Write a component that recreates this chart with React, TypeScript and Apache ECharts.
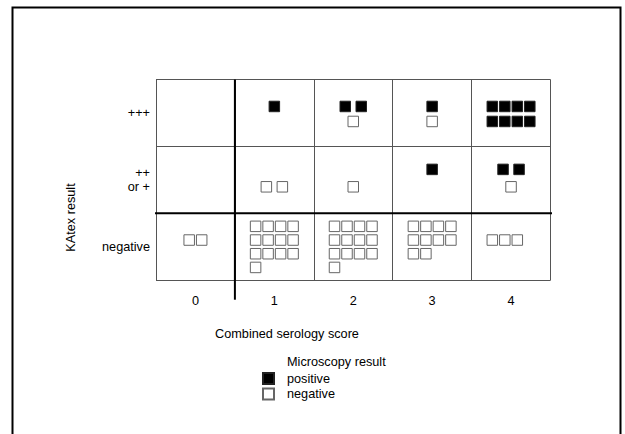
import React, { useEffect, useRef } from "react";
import * as echarts from "echarts";

// ---- data ----
const xCategories = ["0", "1", "2", "3", "4"];
// rows from bottom to top
const yCategories = ["negative", "++\nor +", "+++"];
// counts of patients per cell: [row][serology score]
const positiveByRow = [
  [0, 0, 0, 0, 0],
  [0, 0, 0, 1, 2],
  [0, 1, 2, 1, 8],
];
const negativeByRow = [
  [2, 13, 13, 10, 3],
  [0, 2, 1, 0, 1],
  [0, 0, 1, 1, 0],
];
const legendNames = ["positive", "negative"];

// ---- layout / style ----
const FONT = '"Liberation Sans", Arial, sans-serif';
const FS = 12.7;
const GRID_LEFT = 156;
const GRID_TOP = 79.5;
const GRID_W = 394.5;
const GRID_H = 200.8;
const CELL_W = GRID_W / xCategories.length;
const CELL_H = GRID_H / yCategories.length;
const MAX_PER_LINE = 4;
const TIGHT_STEP = 12.5;
const LOOSE_STEP = 16;
const rowLineStart = [-20.5, -10.5, -6.5];
const rowLineStep = [13.7, 17.4, 15];
const negRowGridCols = [2, 4, 4, 4, 4];
// thick separator lines (data units)
const hSeparator = [[-0.076, 1], [5.1, 1]];
const vSeparator = [[1, 3], [1, -0.29]];

function toData(c: number, r: number, dxPx: number, dyPx: number) {
  return [c + 0.5 + dxPx / CELL_W, r + 0.5 - dyPx / CELL_H];
}

function buildPoints() {
  const pos: number[][] = [];
  const neg: number[][] = [];
  for (let r = 0; r < yCategories.length; r++) {
    for (let c = 0; c < xCategories.length; c++) {
      const p = positiveByRow[r][c];
      const n = negativeByRow[r][c];
      if (r === 0) {
        const cols = negRowGridCols[c];
        const nLines = Math.ceil(n / cols);
        const startLine = nLines === 1 ? 1 : 0;
        for (let i = 0; i < n; i++) {
          const line = Math.floor(i / cols);
          const k = i % cols;
          const dx = (k - (cols - 1) / 2) * TIGHT_STEP;
          const dy = rowLineStart[r] + (startLine + line) * rowLineStep[r];
          neg.push(toData(c, r, dx, dy));
        }
      } else {
        const place = (count: number, startLine: number, out: number[][]) => {
          for (let i = 0; i < count; i++) {
            const line = Math.floor(i / MAX_PER_LINE);
            const k = i % MAX_PER_LINE;
            const inLine = Math.min(MAX_PER_LINE, count - line * MAX_PER_LINE);
            const step = inLine >= 3 ? TIGHT_STEP : LOOSE_STEP;
            const dx = (k - (inLine - 1) / 2) * step;
            const dy = rowLineStart[r] + (startLine + line) * rowLineStep[r];
            out.push(toData(c, r, dx, dy));
          }
        };
        place(p, 0, pos);
        place(n, Math.max(1, Math.ceil(p / MAX_PER_LINE)), neg);
      }
    }
  }
  return { pos, neg };
}

export default function App() {
  const ref = useRef<HTMLDivElement>(null);
  useEffect(() => {
    if (!ref.current) return;
    const chart = echarts.init(ref.current, undefined, { renderer: "svg" });
    const { pos, neg } = buildPoints();
    const hiddenAxis = {
      axisLine: { show: false },
      axisTick: { show: false },
      axisLabel: { show: false },
      splitLine: { show: true, showMinLine: true, showMaxLine: true, lineStyle: { color: "#555", width: 1 } },
    };
    chart.setOption({
      animation: false,
      backgroundColor: "#fff",
      textStyle: { fontFamily: FONT },
      grid: { left: GRID_LEFT, top: GRID_TOP, width: GRID_W, height: GRID_H, containLabel: false },
      xAxis: [
        { type: "value", min: 0, max: xCategories.length, interval: 1, position: "bottom", ...hiddenAxis },
        {
          type: "category",
          data: xCategories,
          position: "bottom",
          boundaryGap: true,
          axisLine: { show: false },
          axisTick: { show: false },
          splitLine: { show: false },
          axisLabel: { margin: 14, fontSize: FS, color: "#000", fontFamily: FONT },
        },
      ],
      yAxis: [
        { type: "value", min: 0, max: yCategories.length, interval: 1, position: "left", ...hiddenAxis },
        {
          type: "category",
          data: yCategories,
          position: "left",
          boundaryGap: true,
          axisLine: { show: false },
          axisTick: { show: false },
          splitLine: { show: false },
          axisLabel: { margin: 6, fontSize: FS, color: "#000", fontFamily: FONT, align: "right", lineHeight: 14.5 },
        },
      ],
      legend: {
        data: legendNames,
        orient: "vertical",
        left: 257,
        top: 367,
        itemWidth: 11,
        itemHeight: 11,
        itemGap: 2.5,
        icon: "rect",
        selectedMode: false,
        textStyle: { fontSize: FS, color: "#000", fontFamily: FONT, padding: [0, 0, 0, 8] },
      },
      series: [
        {
          type: "scatter",
          name: legendNames[0],
          xAxisIndex: 0,
          yAxisIndex: 0,
          symbol: "rect",
          symbolSize: 10.5,
          itemStyle: { color: "#000", borderColor: "#222", borderWidth: 1, opacity: 1 },
          data: pos,
          z: 3,
          silent: true,
        },
        {
          type: "scatter",
          name: legendNames[1],
          xAxisIndex: 0,
          yAxisIndex: 0,
          symbol: "rect",
          symbolSize: 10.5,
          itemStyle: { color: "#fff", borderColor: "#666", borderWidth: 1, opacity: 1 },
          data: neg,
          z: 3,
          silent: true,
        },
        {
          type: "line",
          name: "hsep",
          xAxisIndex: 0,
          yAxisIndex: 0,
          data: hSeparator,
          symbol: "none",
          clip: false,
          silent: true,
          lineStyle: { color: "#000", width: 2 },
          z: 4,
        },
        {
          type: "line",
          name: "vsep",
          xAxisIndex: 0,
          yAxisIndex: 0,
          data: vSeparator,
          symbol: "none",
          clip: false,
          silent: true,
          lineStyle: { color: "#000", width: 2 },
          z: 4,
        },
      ],
      graphic: [
        {
          type: "rect",
          shape: { x: 12.5, y: 7.5, width: 608, height: 460 },
          style: { fill: "none", stroke: "#000", lineWidth: 2 },
          silent: true,
        },
        {
          type: "text",
          x: 71,
          y: 217.5,
          rotation: Math.PI / 2,
          style: {
            text: "KAtex result",
            font: `${FS}px ${FONT}`,
            fill: "#000",
            align: "center",
            verticalAlign: "middle",
            textAlign: "center",
            textVerticalAlign: "middle",
          },
        },
        {
          type: "text",
          x: 287,
          y: 334,
          style: {
            text: "Combined serology score",
            font: `${FS}px ${FONT}`,
            fill: "#000",
            align: "center",
            verticalAlign: "middle",
            textAlign: "center",
            textVerticalAlign: "middle",
          },
        },
        {
          type: "text",
          x: 287,
          y: 362,
          style: {
            text: "Microscopy result",
            font: `${FS}px ${FONT}`,
            fill: "#000",
            align: "left",
            verticalAlign: "middle",
            textAlign: "left",
            textVerticalAlign: "middle",
          },
        },
      ],
    });
    return () => chart.dispose();
  }, []);
  return <div ref={ref} style={{ position: "absolute", left: 0, top: 0, width: 625, height: 434 }} />;
}
